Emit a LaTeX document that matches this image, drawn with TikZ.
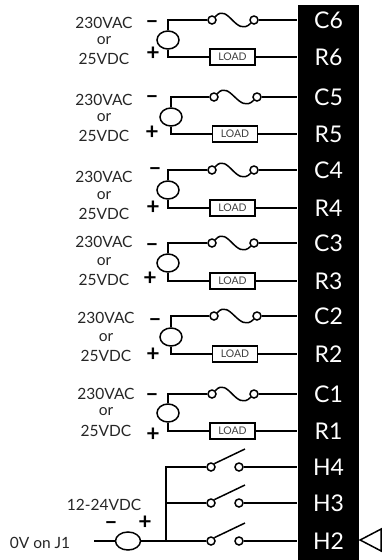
\documentclass[tikz,border=0pt]{standalone}
\usepackage{fontspec}
\setmainfont{Lato}
\usetikzlibrary{shapes.geometric}
\tikzset{terminal/.style = {text = white, font = \fontsize{23}{23}\selectfont, inner sep = 0, minimum width = 61, minimum height = 16}}
\tikzset{source/.style = {draw, ellipse, fill = white, inner sep = 0, minimum width = 22, minimum height = 18}}
\tikzset{lug/.style = {draw, circle, fill = white, inner sep = 0, minimum size = 8}}
\tikzset{loadbox/.style = {draw, fill = white, inner sep = 0, minimum width = 45, minimum height = 16, text = black!75, font = \fontsize{10.5}{11}\selectfont}}
\tikzset{volt/.style = {inner sep = 0, text = black!85, font = \fontsize{15.5}{16}\selectfont}}
\tikzset{sign/.style = {inner sep = 0, font = \fontsize{23}{20}\selectfont\bfseries}}
\tikzset{wire/.style = {line width = 1.5}}

\begin{document}
\begin{tikzpicture}[x = 1pt, y = -1pt, wire]
      \useasboundingbox (0, 0) rectangle (387, 560);
      \node [fill, inner sep = 0, minimum width = 61, minimum height = 555] (bar) at (328.5, 282.5) {};

      % C6 / R6
      \node [terminal] (C6) at (328.5, 20) {C6};
      \node [terminal] (R6) at (328.5, 57) {R6};
      \node [source] (src6) at (168, 40) {};
      \node [lug] (fa6) at (212, 20) {};
      \node [lug] (fb6) at (254, 20) {};
      \node [loadbox] (load6) at (232.5, 57) {LOAD};
      \draw (src6) |- (fa6);
      \draw (src6) |- (load6);
      \draw (fa6.north east) .. controls (228, 2) and (236, 38) .. (fb6.south west);
      \draw (fb6) -- (C6);
      \draw (load6) -- (R6);
      \node [volt] (top6) at (104, 23) {230VAC};
      \node [volt] (or6) at (104, 41) {or};
      \node [volt] (bot6) at (104, 59) {25VDC};
      \node [sign] (neg6) at (152, 25) {\textendash};
      \node [sign] (pos6) at (153, 54) {+};

      % C5 / R5
      \node [terminal] (C5) at (328.5, 97) {C5};
      \node [terminal] (R5) at (328.5, 134) {R5};
      \node [source] (src5) at (171, 117) {};
      \node [lug] (fa5) at (214, 97) {};
      \node [lug] (fb5) at (257, 97) {};
      \node [loadbox] (load5) at (235, 134) {LOAD};
      \draw (src5) |- (fa5);
      \draw (src5) |- (load5);
      \draw (fa5.north east) .. controls (230, 79) and (239, 115) .. (fb5.south west);
      \draw (fb5) -- (C5);
      \draw (load5) -- (R5);
      \node [volt] (top5) at (104, 100) {230VAC};
      \node [volt] (or5) at (104, 118) {or};
      \node [volt] (bot5) at (104, 136) {25VDC};
      \node [sign] (neg5) at (152, 100) {\textendash};
      \node [sign] (pos5) at (152, 133) {+};

      % C4 / R4
      \node [terminal] (C4) at (328.5, 170) {C4};
      \node [terminal] (R4) at (328.5, 208) {R4};
      \node [source] (src4) at (168, 190) {};
      \node [lug] (fa4) at (212, 170) {};
      \node [lug] (fb4) at (254, 170) {};
      \node [loadbox] (load4) at (232.5, 208) {LOAD};
      \draw (src4) |- (fa4);
      \draw (src4) |- (load4);
      \draw (fa4.north east) .. controls (228, 152) and (236, 188) .. (fb4.south west);
      \draw (fb4) -- (C4);
      \draw (load4) -- (R4);
      \node [volt] (top4) at (104, 177) {230VAC};
      \node [volt] (or4) at (104, 196) {or};
      \node [volt] (bot4) at (104, 214) {25VDC};
      \node [sign] (neg4) at (155, 172) {\textendash};
      \node [sign] (pos4) at (153, 208) {+};

      % C3 / R3
      \node [terminal] (C3) at (328.5, 243) {C3};
      \node [terminal] (R3) at (328.5, 281) {R3};
      \node [source] (src3) at (168, 263) {};
      \node [lug] (fa3) at (212, 243) {};
      \node [lug] (fb3) at (254, 243) {};
      \node [loadbox] (load3) at (232.5, 281) {LOAD};
      \draw (src3) |- (fa3);
      \draw (src3) |- (load3);
      \draw (fa3.north east) .. controls (228, 225) and (236, 261) .. (fb3.south west);
      \draw (fb3) -- (C3);
      \draw (load3) -- (R3);
      \node [volt] (top3) at (104, 242) {230VAC};
      \node [volt] (or3) at (104, 262) {or};
      \node [volt] (bot3) at (104, 280) {25VDC};
      \node [sign] (neg3) at (152, 248) {\textendash};
      \node [sign] (pos3) at (150, 279) {+};

      % C2 / R2
      \node [terminal] (C2) at (328.5, 316) {C2};
      \node [terminal] (R2) at (328.5, 354) {R2};
      \node [source] (src2) at (171, 337) {};
      \node [lug] (fa2) at (214, 316) {};
      \node [lug] (fb2) at (257, 316) {};
      \node [loadbox] (load2) at (235, 354) {LOAD};
      \draw (src2) |- (fa2);
      \draw (src2) |- (load2);
      \draw (fa2.north east) .. controls (230, 298) and (239, 334) .. (fb2.south west);
      \draw (fb2) -- (C2);
      \draw (load2) -- (R2);
      \node [volt] (top2) at (106, 318) {230VAC};
      \node [volt] (or2) at (106, 338) {or};
      \node [volt] (bot2) at (106, 356) {25VDC};
      \node [sign] (neg2) at (155, 323) {\textendash};
      \node [sign] (pos2) at (153, 355) {+};

      % C1 / R1
      \node [terminal] (C1) at (328.5, 394) {C1};
      \node [terminal] (R1) at (328.5, 431) {R1};
      \node [source] (src1) at (168, 413) {};
      \node [lug] (fa1) at (212, 394) {};
      \node [lug] (fb1) at (254, 394) {};
      \node [loadbox] (load1) at (232.5, 431) {LOAD};
      \draw (src1) |- (fa1);
      \draw (src1) |- (load1);
      \draw (fa1.north east) .. controls (228, 376) and (236, 412) .. (fb1.south west);
      \draw (fb1) -- (C1);
      \draw (load1) -- (R1);
      \node [volt] (top1) at (106, 394) {230VAC};
      \node [volt] (or1) at (106, 412) {or};
      \node [volt] (bot1) at (106, 431) {25VDC};
      \node [sign] (neg1) at (152, 398) {\textendash};
      \node [sign] (pos1) at (153, 435) {+};

      % H inputs
      \node [terminal] (H4) at (328.5, 467) {H4};
      \node [terminal] (H3) at (328.5, 503) {H3};
      \node [terminal] (H2) at (328.5, 541) {H2};
      \node [lug] (sa4) at (211, 467) {};
      \node [lug] (sb4) at (239, 467) {};
      \node [lug] (sa3) at (211, 503) {};
      \node [lug] (sb3) at (239, 503) {};
      \node [lug] (sa2) at (211, 541) {};
      \node [lug] (sb2) at (239, 541) {};
      \coordinate (tip4) at (245, 449);
      \coordinate (tip3) at (245, 485);
      \coordinate (tip2) at (245, 523);
      \draw (sa4.north east) -- (tip4);
      \draw (sa3.north east) -- (tip3);
      \draw (sa2.north east) -- (tip2);
      \draw (sb4) -- (H4);
      \draw (sb3) -- (H3);
      \draw (sb2) -- (H2);

      \node [source, minimum width = 25] (srcH) at (128, 541) {};
      \coordinate (start) at (94, 541);
      \coordinate (tee) at (166, 541);
      \draw (start) -- (srcH);
      \draw (srcH) -- (sa2);
      \draw (tee) |- (sa4);
      \draw (tee |- sa3) -- (sa3);
      \node [volt] (dc) at (104, 505) {12-24VDC};
      \node [volt] (zero) at (40, 543) {0V on J1};
      \node [sign] (negH) at (111, 526) {\textendash};
      \node [sign] (posH) at (145, 523) {+};

      \node [draw, isosceles triangle, shape border rotate = 180, isosceles triangle stretches, inner sep = 0, minimum width = 22, minimum height = 21] (mark) at (374.5, 540) {};
    \end{tikzpicture}
\end{document}
